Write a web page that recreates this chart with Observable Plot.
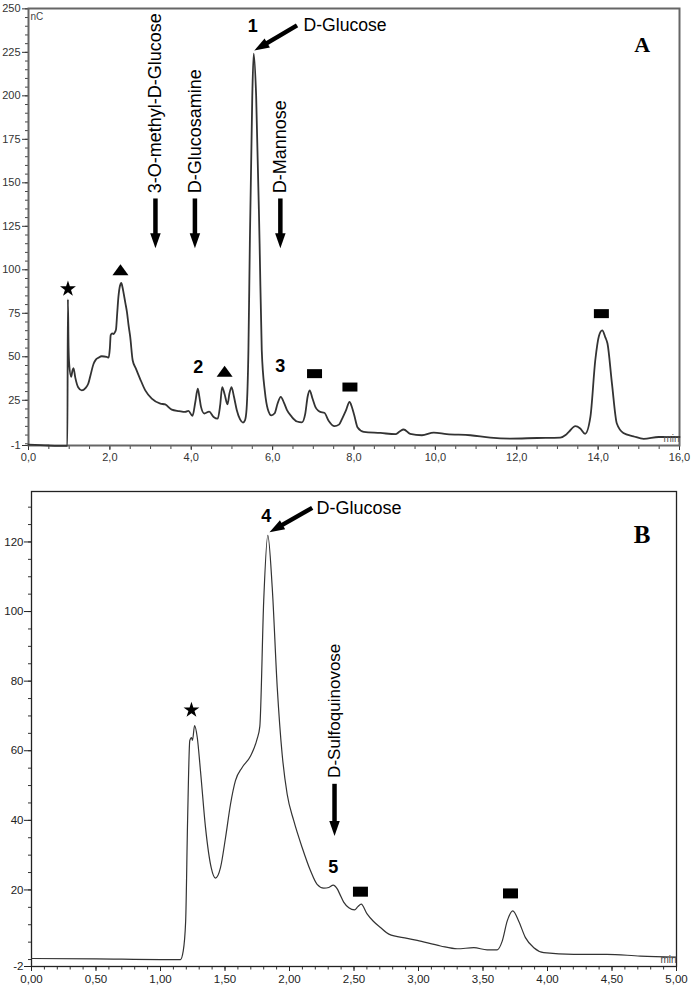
<!DOCTYPE html>
<html><head><meta charset="utf-8">
<script src="https://cdn.jsdelivr.net/npm/d3@7"></script>
<script src="https://cdn.jsdelivr.net/npm/@observablehq/plot@0.6"></script>
<style>
html,body{margin:0;padding:0;background:#fff;}
#chart{width:693px;}
#chart svg{display:block;}
</style></head><body><div id="chart"></div>
<script>
// ---------- Panel A data (time in min, signal in nC) ----------
const timeA = [0, 0.5, 0.9, 0.955, 0.968, 0.985, 1.0, 1.048, 1.08, 1.106,
  1.15, 1.22, 1.31, 1.4, 1.47, 1.53, 1.6, 1.66, 1.72, 1.8,
  1.92, 1.97, 2.0, 2.02, 2.06, 2.09, 2.12, 2.15, 2.18, 2.21,
  2.25, 2.28, 2.31, 2.34, 2.38, 2.42, 2.46, 2.5, 2.56, 2.64,
  2.74, 2.87, 3.03, 3.24, 3.36, 3.52, 3.7, 3.85, 3.93, 4.03,
  4.1, 4.16, 4.2, 4.24, 4.32, 4.44, 4.55, 4.65, 4.71, 4.76,
  4.82, 4.89, 4.94, 4.99, 5.05, 5.12, 5.2, 5.27, 5.32, 5.36,
  5.405, 5.44, 5.5, 5.535, 5.595, 5.68, 5.733, 5.81, 5.88, 5.97,
  6.05, 6.12, 6.2, 6.28, 6.35, 6.47, 6.6, 6.72, 6.8, 6.86,
  6.91, 6.98, 7.05, 7.12, 7.17, 7.27, 7.38, 7.52, 7.63, 7.71,
  7.8, 7.89, 7.95, 8.0, 8.09, 8.24, 8.65, 9.02, 9.12, 9.22,
  9.38, 9.67, 9.96, 10.28, 10.86, 11.35, 11.84, 12.5, 13.07, 13.2,
  13.28, 13.44, 13.56, 13.68, 13.81, 13.93, 14.02, 14.1, 14.18, 14.23,
  14.34, 14.46, 14.62, 14.87, 15.12, 15.49, 16];
const signalA = [-0.5, -1, -1.2, -1.2, 83, 55, 46, 38.5, 42, 43.5,
  38, 32.5, 30.7, 32, 34.6, 40, 46, 48.5, 49.5, 50.3,
  50, 49.5, 55, 62.4, 63.5, 63, 64, 65.6, 75, 84.4,
  91, 92.4, 90, 86.3, 81, 75.7, 68, 61.4, 48, 43.2,
  37.5, 30.7, 26, 23.1, 22.6, 19.6, 18.8, 18.3, 18.9, 16,
  24, 31.7, 27, 21.2, 17.4, 18.5, 15.4, 14.4, 22, 32.6,
  28.5, 22.7, 29, 32.6, 27, 19.3, 14, 12.2, 13.5, 20,
  53.7, 115, 200, 224.3, 200, 115, 53.7, 30, 20, 16.3,
  17.5, 23, 27, 23.5, 19.5, 15.5, 12.8, 12.3, 17, 27,
  30.7, 26, 21.2, 19, 18.3, 17.8, 13.1, 10.1, 11, 14.5,
  19, 24, 21, 17, 9.3, 6.8, 6.2, 5.5, 7, 8.2,
  5.7, 4.9, 6.4, 5.5, 4.9, 3.5, 3, 3.3, 3.5, 5,
  6.8, 10.1, 8.8, 5.7, 15.4, 48, 62, 65.2, 61, 57.6,
  34.6, 11.6, 6.2, 4.3, 2.8, 3.9, 3.9];
const xTicksA = [0, 2, 4, 6, 8, 10, 12, 14, 16];
const xMinorA = d3.range(0, 16.01, 0.5);
const yTicksA = [-1, 25, 50, 75, 100, 125, 150, 175, 200, 225, 250];
const yMinorA = d3.range(0, 251, 5);

// Panel A annotations (data coordinates)
const peakNumsA = [{text: "1", x: 5.51, y: 240}, {text: "2", x: 4.17, y: 44}, {text: "3", x: 6.19, y: 44.5}];
const starsA = [{x: 0.97, y: 89}];
const trianglesA = [{x: 2.26, y: 100}, {x: 4.82, y: 41.7}];
const rectsA = [{x: 7.03, y: 40.3}, {x: 7.9, y: 32.6}, {x: 14.08, y: 74.8}];
const vNamesA = [{text: "3-O-methyl-D-Glucose", x: 3.12, y: 144}, {text: "D-Glucosamine", x: 4.09, y: 144}, {text: "D-Mannose", x: 6.19, y: 144}];
const hNamesA = [{text: "D-Glucose", x: 6.76, y: 240.5}];
const arrowsA = [
  {x1: 3.12, y1: 141, x2: 3.12, y2: 112.4},
  {x1: 4.09, y1: 141, x2: 4.09, y2: 112.4},
  {x1: 6.19, y1: 141, x2: 6.19, y2: 112.4},
  {x1: 6.6, y1: 240.5, x2: 5.55, y2: 226}];
const panelLabelA = [{text: "A", x: 15.08, y: 229}];
const unitYLabelA = [{text: "nC", x: 0.05, y: 245.4}];
const unitXLabelA = [{text: "min", x: 16, y: 2.6}];

// ---------- Panel B data ----------
const timeB = [0, 0.5, 1.0, 1.155, 1.176, 1.195, 1.21, 1.227, 1.24, 1.248,
  1.264, 1.285, 1.31, 1.349, 1.393, 1.426, 1.465, 1.504, 1.543, 1.581,
  1.633, 1.698, 1.749, 1.77, 1.80, 1.832, 1.866, 1.905, 1.943, 1.982,
  2.033, 2.098, 2.163, 2.214, 2.266, 2.305, 2.339, 2.37, 2.39, 2.42,
  2.46, 2.504, 2.53, 2.556, 2.6, 2.65, 2.705, 2.77, 2.912, 2.99,
  3.171, 3.3, 3.429, 3.532, 3.61, 3.649, 3.688, 3.731, 3.776, 3.829,
  3.894, 3.971, 4.204, 4.46, 4.72, 5.0];
const signalB = [0.3, 0.2, 0, 0, 2.4, 11, 39.9, 62.9, 63.8, 63,
  67.2, 63.8, 54.2, 37.9, 26.4, 23.4, 26.4, 35, 44.7, 51.4,
  55.2, 58.5, 63.4, 67, 103, 121.9, 107, 78.2, 59, 47.5,
  39.9, 32.2, 25.5, 21.6, 20.5, 20.7, 21.4, 20.3, 18.8, 16.5,
  14.9, 14.3, 15.2, 15.9, 13.2, 11, 9.2, 7.3, 6.1, 5.5,
  3.9, 3.1, 3.4, 2.8, 2.8, 5.3, 11.1, 14, 11.1, 6.3,
  3.4, 2, 1.5, 1.5, 1, 0.7];
const xTicksB = [0, 0.5, 1, 1.5, 2, 2.5, 3, 3.5, 4, 4.5, 5];
const xMinorB = d3.range(0, 5.001, 0.1);
const yTicksB = [-2, 20, 40, 60, 80, 100, 120];
const yMinorB = d3.range(0, 131, 5);

const peakNumsB = [{text: "4", x: 1.82, y: 127.3}, {text: "5", x: 2.34, y: 26.4}];
const starsB = [{x: 1.24, y: 71.7}];
const rectsB = [{x: 2.55, y: 19.5}, {x: 3.713, y: 19}];
const vNamesB = [{text: "D-Sulfoquinovose", x: 2.349, y: 52.2}];
const hNamesB = [{text: "D-Glucose", x: 2.21, y: 129.7}];
const arrowsB = [
  {x1: 2.349, y1: 50.5, x2: 2.349, y2: 35.5},
  {x1: 2.176, y1: 129.8, x2: 1.845, y2: 122.8}];
const panelLabelB = [{text: "B", x: 4.734, y: 121.9}];
const unitXLabelB = [{text: "min", x: 5, y: 0}];

// ---------- helpers ----------
const SANS = "'Liberation Sans', Arial, Helvetica, sans-serif";
const SERIF = "'Liberation Serif', 'Times New Roman', serif";
const W = 693;
function rectSym(w, h) { return {draw(ctx) { ctx.rect(-w / 2, -h / 2, w, h); }}; }
function triSym(w, h) { return {draw(ctx) { ctx.moveTo(0, -h / 2); ctx.lineTo(w / 2, h / 2); ctx.lineTo(-w / 2, h / 2); ctx.closePath(); }}; }

function arrowMarks(arrows, sx, sy, headLen, headW, shaftW) {
  const marks = [];
  for (const a of arrows) {
    const p1 = [sx.apply(a.x1), sy.apply(a.y1)], p2 = [sx.apply(a.x2), sy.apply(a.y2)];
    const dx = p2[0] - p1[0], dy = p2[1] - p1[1], L = Math.hypot(dx, dy);
    const ux = dx / L, uy = dy / L;
    const bx = p2[0] - ux * headLen * 0.85, by = p2[1] - uy * headLen * 0.85;
    const shaft = {x1: a.x1, y1: a.y1, x2: sx.invert(bx), y2: sy.invert(by)};
    const sym = {draw(ctx) {
      const cx = -ux * headLen, cy = -uy * headLen, nx = -uy * headW / 2, ny = ux * headW / 2;
      ctx.moveTo(0, 0); ctx.lineTo(cx + nx, cy + ny); ctx.lineTo(cx - nx, cy - ny); ctx.closePath();
    }};
    marks.push(Plot.link([shaft], {x1: "x1", y1: "y1", x2: "x2", y2: "y2", stroke: "black", strokeWidth: shaftW}));
    marks.push(Plot.dot([{x: a.x2, y: a.y2}], {x: "x", y: "y", symbol: sym, fill: "black", stroke: "none"}));
  }
  return marks;
}

// ---------- Panel A ----------
const hA = 470, mA = {top: 8, right: 14, bottom: 25, left: 28};
const yDomA = [-1, 250.2];
const sxA = Plot.scale({x: {domain: [0, 16], range: [mA.left, W - mA.right]}});
const syA = Plot.scale({y: {domain: yDomA, range: [hA - mA.bottom, mA.top]}});
const dataA = timeA.map((t, i) => ({t, v: signalA[i]}));

const plotA = Plot.plot({
  width: W, height: hA,
  marginTop: mA.top, marginRight: mA.right, marginBottom: mA.bottom, marginLeft: mA.left,
  x: {domain: [0, 16]}, y: {domain: yDomA},
  style: {fontFamily: SANS, fontSize: "11px", color: "#333", background: "#fff"},
  marks: [
    Plot.axisX({ticks: xMinorA, tickSize: 4, tickFormat: () => "", label: null, color: "#444"}),
    Plot.axisX({ticks: xTicksA, tickSize: 5, tickPadding: 3, tickFormat: d => d.toFixed(1).replace(".", ","), label: null, color: "#333", fontSize: 11}),
    Plot.axisY({ticks: yMinorA, tickSize: 3, tickFormat: () => "", label: null, color: "#444"}),
    Plot.axisY({ticks: yTicksA, tickSize: 6, tickPadding: 2, tickFormat: d => String(d), label: null, color: "#333", fontSize: 11}),
    Plot.frame({stroke: "#666", strokeWidth: 2}),
    Plot.line(dataA, {x: "t", y: "v", curve: "monotone-x", stroke: "#333", strokeWidth: 1.8}),
    Plot.dot(starsA, {x: "x", y: "y", symbol: "star", r: 5, fill: "black", stroke: "none"}),
    Plot.dot(trianglesA, {x: "x", y: "y", symbol: triSym(16, 11), fill: "black", stroke: "none"}),
    Plot.dot(rectsA, {x: "x", y: "y", symbol: rectSym(15, 9), fill: "black", stroke: "none"}),
    Plot.text(peakNumsA, {x: "x", y: "y", text: "text", fontSize: 18, fontWeight: "bold", fill: "black"}),
    Plot.text(vNamesA, {x: "x", y: "y", text: "text", rotate: -90, textAnchor: "start", lineAnchor: "middle", fontSize: 18, fill: "black"}),
    Plot.text(hNamesA, {x: "x", y: "y", text: "text", textAnchor: "start", fontSize: 17.6, fill: "black"}),
    ...arrowMarks(arrowsA, sxA, syA, 15, 10.5, 4.5),
    Plot.text(panelLabelA, {x: "x", y: "y", text: "text", fontFamily: SERIF, fontWeight: "bold", fontSize: 22, fill: "black"}),
    Plot.text(unitYLabelA, {x: "x", y: "y", text: "text", textAnchor: "start", fontSize: 10, fill: "#444"}),
    Plot.text(unitXLabelA, {x: "x", y: "y", text: "text", textAnchor: "end", fontSize: 10, fill: "#555"})
  ]
});

// ---------- Panel B ----------
const hB = 518, mB = {top: 21, right: 17, bottom: 22, left: 31};
const sxB = Plot.scale({x: {domain: [0, 5], range: [mB.left, W - mB.right]}});
const syB = Plot.scale({y: {domain: [-2, 134.5], range: [hB - mB.bottom, mB.top]}});
const dataB = timeB.map((t, i) => ({t, v: signalB[i]}));

const plotB = Plot.plot({
  width: W, height: hB,
  marginTop: mB.top, marginRight: mB.right, marginBottom: mB.bottom, marginLeft: mB.left,
  x: {domain: [0, 5]}, y: {domain: [-2, 134.5]},
  style: {fontFamily: SANS, fontSize: "11px", color: "#222", background: "#fff"},
  marks: [
    Plot.axisX({ticks: xMinorB, tickSize: 3.5, tickFormat: () => "", label: null, color: "#333"}),
    Plot.axisX({ticks: xTicksB, tickSize: 5, tickPadding: 3, tickFormat: d => d.toFixed(2).replace(".", ","), label: null, color: "#222", fontSize: 11.5}),
    Plot.axisY({ticks: yMinorB, tickSize: 3, tickFormat: () => "", label: null, color: "#333"}),
    Plot.axisY({ticks: yTicksB, tickSize: 7, tickPadding: 1, tickFormat: d => String(d), label: null, color: "#222", fontSize: 11.5}),
    Plot.frame({stroke: "#222", strokeWidth: 1.3}),
    Plot.line(dataB, {x: "t", y: "v", curve: "monotone-x", stroke: "#333", strokeWidth: 1.2}),
    Plot.dot(starsB, {x: "x", y: "y", symbol: "star", r: 5, fill: "black", stroke: "none"}),
    Plot.dot(rectsB, {x: "x", y: "y", symbol: rectSym(15, 10), fill: "black", stroke: "none"}),
    Plot.text(peakNumsB, {x: "x", y: "y", text: "text", fontSize: 18, fontWeight: "bold", fill: "black"}),
    Plot.text(vNamesB, {x: "x", y: "y", text: "text", rotate: -90, textAnchor: "start", lineAnchor: "middle", fontSize: 17, fill: "black"}),
    Plot.text(hNamesB, {x: "x", y: "y", text: "text", textAnchor: "start", fontSize: 18, fill: "black"}),
    ...arrowMarks(arrowsB, sxB, syB, 15, 10.5, 4.5),
    Plot.text(panelLabelB, {x: "x", y: "y", text: "text", fontFamily: SERIF, fontWeight: "bold", fontSize: 25, fill: "black"}),
    Plot.text(unitXLabelB, {x: "x", y: "y", text: "text", textAnchor: "end", fontSize: 10, fill: "#444"})
  ]
});

document.getElementById("chart").append(plotA, plotB);
</script></body></html>
